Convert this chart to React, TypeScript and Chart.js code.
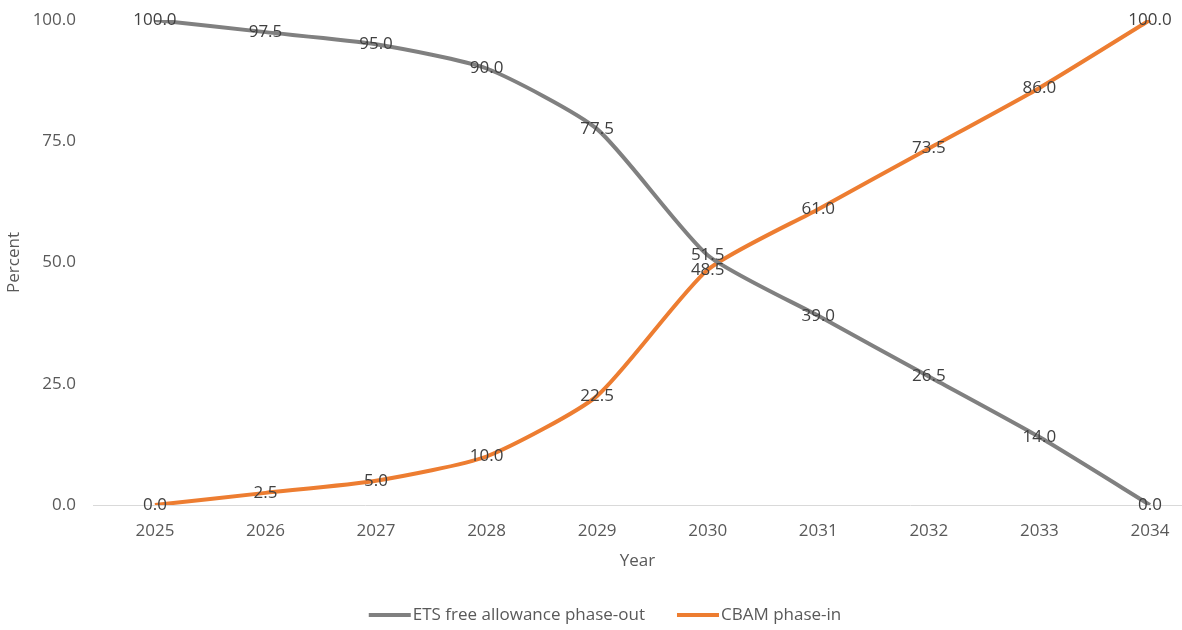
import React, { useEffect, useRef } from "react";
import { Chart, registerables } from "chart.js";

Chart.register(...registerables);

const years = [2025, 2026, 2027, 2028, 2029, 2030, 2031, 2032, 2033, 2034];
const etsValues = [100, 97.5, 95, 90, 77.5, 51.5, 39, 26.5, 14, 0];
const cbamValues = [0, 2.5, 5, 10, 22.5, 48.5, 61, 73.5, 86, 100];
const yTicks = [0, 25, 50, 75, 100];
const seriesNames = ["ETS free allowance phase-out", "CBAM phase-in"];

const GREY = "#808080";
const ORANGE = "#ED7D31";
const FONT = "'Open Sans', 'Noto Sans', sans-serif";
const FS = 17;

const dataLabelPlugin = {
  id: "dataLabels",
  afterDatasetsDraw(chart: any) {
    const ctx = chart.ctx;
    ctx.save();
    ctx.font = `${FS}px ${FONT}`;
    ctx.fillStyle = "#404040";
    ctx.textAlign = "center";
    ctx.textBaseline = "middle";
    chart.data.datasets.forEach((ds: any, di: number) => {
      const meta = chart.getDatasetMeta(di);
      meta.data.forEach((pt: any, i: number) => {
        const v = ds.data[i].y;
        ctx.fillText(v.toFixed(1), pt.x, pt.y);
      });
    });
    ctx.restore();
  },
};

const bottomLegendPlugin = {
  id: "bottomLegend",
  afterDraw(chart: any) {
    const ctx = chart.ctx;
    ctx.save();
    ctx.font = `${FS}px ${FONT}`;
    ctx.textBaseline = "middle";
    ctx.textAlign = "left";
    const lineW = 42;
    const gap = 2;
    const itemGap = 32;
    const items = chart.data.datasets.map((ds: any) => ({
      text: ds.label,
      color: ds.borderColor,
      w: lineW + gap + ctx.measureText(ds.label).width,
    }));
    const total = items.reduce((a: number, it: any) => a + it.w, 0) + itemGap * (items.length - 1);
    let x = 605 - total / 2;
    const y = 615;
    items.forEach((it: any) => {
      ctx.fillStyle = it.color;
      ctx.fillRect(x, y - 2, lineW, 4);
      ctx.fillStyle = "#595959";
      ctx.fillText(it.text, x + lineW + gap, y);
      x += it.w + itemGap;
    });
    ctx.restore();
  },
};

export default function App() {
  const ref = useRef<HTMLCanvasElement>(null);
  useEffect(() => {
    if (!ref.current) return;
    const chart = new Chart(ref.current, {
      type: "line",
      data: {
        datasets: [
          {
            label: seriesNames[0],
            data: years.map((x, i) => ({ x, y: etsValues[i] })),
            borderColor: GREY,
            backgroundColor: GREY,
            borderWidth: 4,
            pointRadius: 0,
            tension: 0.2,
          },
          {
            label: seriesNames[1],
            data: years.map((x, i) => ({ x, y: cbamValues[i] })),
            borderColor: ORANGE,
            backgroundColor: ORANGE,
            borderWidth: 4,
            pointRadius: 0,
            tension: 0.2,
          },
        ],
      },
      options: {
        responsive: false,
        animation: false,
        layout: { padding: { left: 0, right: 0, top: 20, bottom: 53 } },
        plugins: {
          tooltip: { enabled: false },
          legend: { display: false },
        },
        scales: {
          x: {
            type: "linear",
            min: 2024.44,
            max: 2034.29,
            afterBuildTicks: (s: any) => {
              s.ticks = years.map((v) => ({ value: v }));
            },
            afterFit: (s: any) => {
              s.height = 72;
              s.paddingLeft = 0;
              s.paddingRight = 0;
            },
            grid: { display: false, drawTicks: false },
            border: { display: true, color: "#d9d9d9", width: 1 },
            ticks: {
              font: { family: FONT, size: FS },
              color: "#595959",
              padding: 16,
              maxRotation: 0,
              callback: (v: any) => String(v),
            },
            title: {
              display: true,
              text: "Year",
              font: { family: FONT, size: FS },
              color: "#595959",
              padding: { top: 0, bottom: 6 },
            },
          },
          y: {
            min: 0,
            max: 100,
            afterBuildTicks: (s: any) => {
              s.ticks = yTicks.map((v) => ({ value: v }));
            },
            afterFit: (s: any) => {
              s.width = 93;
              s.paddingTop = 0;
              s.paddingBottom = 0;
            },
            grid: { display: false, drawTicks: false },
            border: { display: false },
            ticks: {
              font: { family: FONT, size: FS },
              color: "#595959",
              padding: 17,
              callback: (v: any) => Number(v).toFixed(1),
            },
            title: {
              display: true,
              text: "Percent",
              font: { family: FONT, size: FS },
              color: "#595959",
              padding: { top: 4, bottom: 0 },
            },
          },
        },
      },
      plugins: [dataLabelPlugin, bottomLegendPlugin],
    });
    return () => chart.destroy();
  }, []);
  return (
    <canvas
      ref={ref}
      width={1182}
      height={630}
      style={{ position: "fixed", left: 0, top: 0, width: 1182, height: 630 }}
    />
  );
}
